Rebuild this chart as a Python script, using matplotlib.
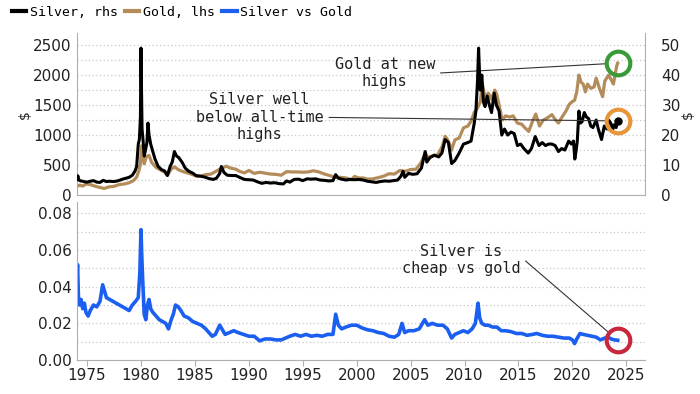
import matplotlib.pyplot as plt
from matplotlib.lines import Line2D

# silver price, $/oz (right axis)
silver_t = [1974.05, 1974.15, 1974.25, 1974.4, 1974.6, 1974.8, 1975.0, 1975.3, 1975.6, 1975.9,
            1976.2, 1976.5, 1976.8, 1977.1, 1977.4, 1977.7, 1978.0, 1978.3, 1978.6, 1978.9,
            1979.2, 1979.45, 1979.6, 1979.75, 1979.85, 1979.95, 1980.0, 1980.05, 1980.1, 1980.2,
            1980.3, 1980.45, 1980.55, 1980.65, 1980.75, 1980.9, 1981.1, 1981.3, 1981.6, 1981.9,
            1982.2, 1982.45, 1982.7, 1982.9, 1983.1, 1983.3, 1983.5, 1983.8, 1984.1, 1984.4,
            1984.8, 1985.1, 1985.5, 1985.9, 1986.3, 1986.7, 1987.0, 1987.3, 1987.45, 1987.7,
            1988.0, 1988.4, 1988.8, 1989.2, 1989.6, 1990.0, 1990.4, 1990.8, 1991.2, 1991.6,
            1992.0, 1992.4, 1992.8, 1993.2, 1993.5, 1993.8, 1994.2, 1994.6, 1995.0, 1995.4,
            1995.8, 1996.2, 1996.6, 1997.0, 1997.4, 1997.8, 1998.05, 1998.3, 1998.6, 1999.0,
            1999.4, 1999.8, 2000.2, 2000.6, 2001.0, 2001.4, 2001.8, 2002.2, 2002.6, 2003.0,
            2003.4, 2003.8, 2004.1, 2004.3, 2004.45, 2004.8, 2005.2, 2005.6, 2006.0, 2006.35,
            2006.5, 2006.8, 2007.2, 2007.6, 2007.9, 2008.2, 2008.5, 2008.8, 2009.1, 2009.5,
            2009.9, 2010.3, 2010.6, 2010.9, 2011.05, 2011.2, 2011.3, 2011.45, 2011.6, 2011.75,
            2011.9, 2012.1, 2012.3, 2012.5, 2012.75, 2012.95, 2013.2, 2013.45, 2013.7, 2014.0,
            2014.3, 2014.6, 2014.9, 2015.2, 2015.5, 2015.9, 2016.2, 2016.55, 2016.9, 2017.2,
            2017.5, 2017.8, 2018.1, 2018.4, 2018.7, 2019.0, 2019.3, 2019.65, 2019.9, 2020.1,
            2020.22, 2020.35, 2020.45, 2020.6, 2020.75, 2020.9, 2021.1, 2021.3, 2021.5, 2021.7,
            2021.9, 2022.2, 2022.4, 2022.7, 2022.95, 2023.2, 2023.35, 2023.55, 2023.75, 2023.9,
            2024.05, 2024.2]
silver = [5.2, 6.4, 5.0, 4.7, 4.6, 4.4, 4.3, 4.6, 4.8, 4.3,
          4.2, 4.9, 4.5, 4.6, 4.5, 4.6, 4.9, 5.3, 5.6, 5.9,
          6.6, 8.0, 9.5, 17.0, 18.5, 26.0, 49.0, 36.0, 22.0, 18.0,
          13.0, 15.5, 17.5, 24.0, 20.0, 17.0, 14.5, 12.0, 9.5, 8.5,
          8.0, 6.5, 9.5, 11.0, 14.5, 13.0, 12.5, 11.0, 9.0, 8.0,
          7.3, 6.5, 6.3, 6.0, 5.5, 5.2, 5.6, 7.2, 9.5, 7.5,
          6.6, 6.5, 6.5, 5.8, 5.2, 5.1, 5.0, 4.4, 3.9, 4.2,
          4.0, 4.1, 3.8, 3.7, 4.7, 4.3, 5.2, 5.3, 4.8, 5.4,
          5.3, 5.4, 5.0, 4.9, 4.7, 4.8, 6.8, 5.6, 5.3, 5.0,
          5.2, 5.1, 5.2, 5.0, 4.6, 4.4, 4.2, 4.5, 4.7, 4.6,
          4.8, 5.0, 6.3, 7.9, 5.9, 7.2, 6.9, 7.1, 9.0, 14.5,
          11.0, 12.5, 13.3, 12.7, 14.0, 18.5, 17.5, 10.5, 11.5, 14.0,
          17.0, 17.5, 18.0, 24.0, 28.0, 38.0, 49.0, 35.0, 40.0, 31.0,
          29.5, 33.0, 30.0, 27.5, 34.0, 30.0, 28.0, 20.0, 22.0, 20.0,
          21.0, 20.5, 16.5, 17.0, 15.5, 14.0, 15.5, 19.5, 16.5, 17.5,
          16.5, 17.0, 17.0, 16.5, 14.5, 15.5, 15.0, 18.0, 17.0, 18.0,
          12.0, 15.0, 18.0, 28.0, 24.0, 24.5, 27.5, 26.0, 25.5, 23.0,
          22.5, 25.0, 22.0, 18.5, 23.0, 22.0, 25.0, 24.0, 22.0, 23.5,
          22.5, 24.7]

# gold price, $/oz (left axis)
gold_t = [1974.05, 1974.3, 1974.6, 1974.95, 1975.3, 1975.7, 1976.1, 1976.6, 1977.0, 1977.5,
          1978.0, 1978.5, 1978.9, 1979.3, 1979.6, 1979.8, 1979.95, 1980.05, 1980.15, 1980.3,
          1980.5, 1980.75, 1981.0, 1981.4, 1981.8, 1982.2, 1982.45, 1982.8, 1983.1, 1983.5,
          1983.9, 1984.3, 1984.8, 1985.2, 1985.6, 1986.0, 1986.5, 1987.0, 1987.5, 1987.9,
          1988.3, 1988.8, 1989.2, 1989.6, 1990.0, 1990.5, 1991.0, 1991.5, 1992.0, 1992.5,
          1993.0, 1993.5, 1994.0, 1994.5, 1995.0, 1995.5, 1996.0, 1996.5, 1997.0, 1997.5,
          1998.0, 1998.5, 1999.0, 1999.5, 1999.8, 2000.2, 2000.6, 2001.0, 2001.5, 2002.0,
          2002.5, 2003.0, 2003.5, 2004.0, 2004.5, 2005.0, 2005.5, 2006.0, 2006.35, 2006.6,
          2007.0, 2007.5, 2007.9, 2008.2, 2008.5, 2008.8, 2009.1, 2009.5, 2009.9, 2010.3,
          2010.6, 2010.9, 2011.2, 2011.45, 2011.65, 2011.9, 2012.2, 2012.5, 2012.8, 2013.0,
          2013.3, 2013.5, 2013.8, 2014.2, 2014.5, 2014.9, 2015.3, 2015.6, 2015.95, 2016.3,
          2016.6, 2016.95, 2017.3, 2017.7, 2018.1, 2018.4, 2018.7, 2019.0, 2019.4, 2019.7,
          2020.0, 2020.2, 2020.4, 2020.6, 2020.8, 2021.0, 2021.2, 2021.4, 2021.7, 2022.0,
          2022.2, 2022.5, 2022.8, 2023.0, 2023.35, 2023.6, 2023.8, 2024.0, 2024.1, 2024.2]
gold = [140, 165, 150, 185, 175, 150, 130, 110, 135, 145,
        175, 185, 205, 240, 300, 400, 520, 820, 650, 520,
        640, 660, 540, 460, 420, 380, 330, 430, 470, 420,
        390, 370, 340, 310, 320, 340, 350, 400, 450, 480,
        450, 430, 390, 370, 410, 360, 380, 365, 350, 345,
        330, 390, 385, 385, 380, 385, 405, 385, 350, 325,
        295, 295, 285, 255, 310, 285, 285, 265, 270, 290,
        315, 355, 350, 410, 395, 425, 430, 550, 700, 630,
        650, 670, 800, 980, 900, 750, 920, 950, 1120, 1150,
        1230, 1380, 1450, 1550, 1850, 1620, 1700, 1600, 1750, 1670,
        1420, 1250, 1320, 1300, 1320, 1200, 1180, 1120, 1060, 1230,
        1350, 1150, 1250, 1290, 1340, 1260, 1200, 1290, 1400, 1510,
        1560, 1580, 1720, 2000, 1880, 1850, 1720, 1850, 1780, 1800,
        1950, 1780, 1640, 1900, 2000, 1920, 1850, 2050, 2150, 2200]

# silver / gold ratio
ratio_t = [1974.05, 1974.12, 1974.2, 1974.3, 1974.45, 1974.6, 1974.75, 1974.9, 1975.1, 1975.3,
           1975.6, 1975.9, 1976.2, 1976.45, 1976.6, 1976.8, 1977.1, 1977.4, 1977.7, 1978.0,
           1978.3, 1978.6, 1978.9, 1979.2, 1979.5, 1979.75, 1979.9, 1980.0, 1980.08, 1980.15,
           1980.3, 1980.45, 1980.6, 1980.75, 1980.9, 1981.1, 1981.4, 1981.7, 1982.0, 1982.3,
           1982.55, 1982.8, 1983.0, 1983.2, 1983.45, 1983.7, 1984.0, 1984.4, 1984.8, 1985.2,
           1985.6, 1986.0, 1986.3, 1986.6, 1986.9, 1987.3, 1987.5, 1987.8, 1988.2, 1988.6,
           1989.0, 1989.5, 1990.0, 1990.5, 1991.0, 1991.5, 1992.0, 1992.5, 1993.0, 1993.4,
           1993.8, 1994.3, 1994.8, 1995.3, 1995.8, 1996.3, 1996.8, 1997.3, 1997.8, 1998.05,
           1998.3, 1998.6, 1999.0, 1999.5, 2000.0, 2000.5, 2001.0, 2001.5, 2002.0, 2002.5,
           2003.0, 2003.5, 2003.9, 2004.2, 2004.45, 2004.8, 2005.3, 2005.8, 2006.3, 2006.6,
           2007.0, 2007.5, 2008.0, 2008.4, 2008.8, 2009.1, 2009.5, 2009.9, 2010.3, 2010.7,
           2011.0, 2011.25, 2011.4, 2011.6, 2011.9, 2012.2, 2012.6, 2013.0, 2013.4, 2013.8,
           2014.3, 2014.8, 2015.3, 2015.8, 2016.3, 2016.7, 2017.2, 2017.7, 2018.2, 2018.7,
           2019.2, 2019.7, 2020.0, 2020.2, 2020.4, 2020.7, 2021.0, 2021.4, 2021.8, 2022.2,
           2022.6, 2023.0, 2023.3, 2023.6, 2023.9, 2024.2]
ratio = [0.042, 0.052, 0.035, 0.030, 0.033, 0.028, 0.031, 0.026, 0.024, 0.027,
         0.030, 0.029, 0.032, 0.041, 0.038, 0.034, 0.033, 0.032, 0.031, 0.030,
         0.029, 0.028, 0.027, 0.030, 0.032, 0.034, 0.048, 0.071, 0.056, 0.045,
         0.025, 0.022, 0.030, 0.033, 0.028, 0.026, 0.024, 0.022, 0.021, 0.020,
         0.017, 0.022, 0.025, 0.030, 0.029, 0.027, 0.024, 0.023, 0.021, 0.020,
         0.019, 0.017, 0.015, 0.013, 0.014, 0.019, 0.017, 0.014, 0.015, 0.016,
         0.015, 0.014, 0.013, 0.013, 0.0105, 0.0115, 0.0115, 0.011, 0.011, 0.012,
         0.013, 0.014, 0.013, 0.014, 0.013, 0.0135, 0.013, 0.014, 0.014, 0.025,
         0.019, 0.017, 0.018, 0.019, 0.019, 0.0175, 0.0165, 0.016, 0.015, 0.0145,
         0.013, 0.0125, 0.014, 0.020, 0.015, 0.016, 0.016, 0.017, 0.022, 0.019,
         0.020, 0.019, 0.019, 0.017, 0.012, 0.014, 0.015, 0.016, 0.015, 0.017,
         0.020, 0.031, 0.023, 0.020, 0.019, 0.019, 0.018, 0.018, 0.016, 0.016,
         0.0155, 0.0145, 0.0145, 0.0135, 0.014, 0.0145, 0.0135, 0.013, 0.013, 0.0125,
         0.012, 0.012, 0.011, 0.009, 0.0115, 0.0145, 0.014, 0.0135, 0.013, 0.0125,
         0.011, 0.012, 0.0125, 0.0115, 0.011, 0.0108]

C_SILVER = '#000000'
C_GOLD = '#b48c5a'
C_RATIO = '#1b5ff0'
GRID = '#c8c8c8'
SPINE = '#b0b0b0'
TXT = '#222222'
MONO = 'DejaVu Sans Mono'

plt.rcParams['font.family'] = 'DejaVu Sans'
fig = plt.figure(figsize=(7, 3.94), dpi=100)
ax1 = fig.add_axes([0.110, 0.505, 0.811, 0.411])
ax2 = fig.add_axes([0.110, 0.086, 0.811, 0.401])
ax1r = ax1.twinx()

ax1.plot(gold_t, gold, color=C_GOLD, lw=2.3, zorder=2)
ax1r.plot(silver_t, silver, color=C_SILVER, lw=2.2, zorder=3)
ax2.plot(ratio_t, ratio, color=C_RATIO, lw=2.6)

ax1.set_ylim(0, 2700)
ax1r.set_ylim(0, 54)
ax2.set_ylim(0, 0.086)
for a in (ax1, ax2):
    a.set_xlim(1974.07, 2026.7)

ax1.set_yticks([0, 500, 1000, 1500, 2000, 2500])
ax1.set_yticks(range(0, 2501, 250), minor=True)
ax1r.set_yticks([0, 10, 20, 30, 40, 50])
ax2.set_yticks([0.0, 0.02, 0.04, 0.06, 0.08])
ax2.set_yticklabels(['0.00', '0.02', '0.04', '0.06', '0.08'])
ax2.set_yticks([0.01 * i for i in range(9)], minor=True)
ax2.set_xticks(range(1975, 2026, 5))
ax1.set_xticks(range(1975, 2026, 5))
ax1.tick_params(axis='x', labelbottom=False, length=0)

for a in (ax1, ax2):
    a.grid(axis='y', which='both', color=GRID, ls=(0, (1, 2)), lw=0.9)
    a.set_axisbelow(True)
    a.spines['top'].set_visible(False)
    a.spines['right'].set_visible(False)
    a.spines['left'].set_color(SPINE)
    a.spines['bottom'].set_color(SPINE)
    a.tick_params(axis='y', which='both', length=0, labelsize=11, colors=TXT, pad=4)
ax1r.spines['top'].set_visible(False)
ax1r.spines['left'].set_visible(False)
ax1r.spines['bottom'].set_visible(False)
ax1r.spines['right'].set_color(SPINE)
ax1r.tick_params(axis='y', length=0, labelsize=11, colors=TXT, pad=12)
ax2.tick_params(axis='x', length=4, color=SPINE, labelsize=11, colors=TXT, pad=2)

ax1.set_ylabel('$', fontsize=10, color=TXT, labelpad=1)
ax1r.set_ylabel('$', fontsize=10, color=TXT, labelpad=0)

# highlight rings at last points
ax1.plot(gold_t[-1], gold[-1], 'o', ms=17, mfc='none', mec='#3a9a3a', mew=3, zorder=5)
ax1r.plot(silver_t[-1], silver[-1], 'o', ms=17, mfc='none', mec='#e8963a', mew=3, zorder=5)
ax1r.plot(silver_t[-1], silver[-1], 'o', ms=5, color=C_SILVER, zorder=6)
ax2.plot(ratio_t[-1], ratio[-1], 'o', ms=17, mfc='none', mec='#c8283c', mew=3, zorder=5)

line = dict(arrowstyle='-', color='#333333', lw=0.8, shrinkA=2, shrinkB=8)
ax1.annotate('Gold at new\nhighs', xy=(gold_t[-1], gold[-1]), xytext=(2002.6, 2030),
             ha='center', va='center', fontsize=11, family=MONO, color=TXT,
             arrowprops=dict(line, relpos=(1, 0.5)))
ax1r.annotate('Silver well\nbelow all-time\nhighs', xy=(silver_t[-1], silver[-1]),
              xytext=(1991.0, 25.9), ha='center', va='center', fontsize=11, family=MONO,
              color=TXT, arrowprops=dict(line, relpos=(1, 0.5)))
ax2.annotate('Silver is\ncheap vs gold', xy=(ratio_t[-1], ratio[-1]), xytext=(2009.7, 0.0545),
             ha='center', va='center', fontsize=11, family=MONO, color=TXT,
             arrowprops=dict(line, relpos=(1, 0.6)))

handles = [Line2D([], [], color=C_SILVER, lw=3), Line2D([], [], color=C_GOLD, lw=3),
           Line2D([], [], color=C_RATIO, lw=3)]
fig.legend(handles, ['Silver, rhs', 'Gold, lhs', 'Silver vs Gold'], loc='upper left',
           bbox_to_anchor=(0.0, 1.015), ncol=3, frameon=False, handlelength=1.1,
           handletextpad=0.3, columnspacing=0.5, prop={'family': MONO, 'size': 9.5})

fig.savefig('out.png', dpi=100)
